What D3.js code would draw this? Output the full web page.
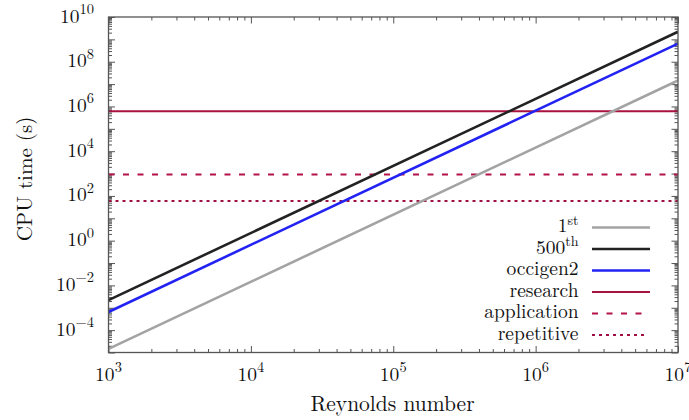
<!DOCTYPE html>
<html>
<head>
<meta charset="utf-8">
<script src="https://cdn.jsdelivr.net/npm/d3@7/dist/d3.min.js"></script>
<style>
  html, body { margin: 0; padding: 0; background: #fff; }
  svg { display: block; }
</style>
</head>
<body>
<svg id="chart" width="689" height="420"></svg>
<script>
// ---- data ----
const reynolds = [1e3, 1e7];
const cpu1st = [1.45e-5, 1.45e7];
const cpu500th = [2.2e-3, 2.2e9];
const cpuOccigen2 = [6.5e-4, 6.5e8];
const researchTime = 6.048e5;
const applicationTime = 900;
const repetitiveTime = 60;
const xTickExponents = [3, 4, 5, 6, 7];
const yTickExponents = [-4, -2, 0, 2, 4, 6, 8, 10];
const xTitle = "Reynolds number";
const yTitle = "CPU time (s)";

const series = [
  { name: "1", sup: "st", values: cpu1st, color: "#a3a3a3", width: 2.6, dash: null },
  { name: "500", sup: "th", values: cpu500th, color: "#222222", width: 2.6, dash: null },
  { name: "occigen2", sup: null, values: cpuOccigen2, color: "#2222f2", width: 2.6, dash: null }
];
const levels = [
  { name: "research", value: researchTime, color: "#a8123f", width: 2, dash: null },
  { name: "application", value: applicationTime, color: "#b3124a", width: 2, dash: "6,8.5" },
  { name: "repetitive", value: repetitiveTime, color: "#9e1045", width: 2, dash: "3,4" }
];

// ---- layout ----
const FONT = '"Latin Modern Roman", "Liberation Serif", serif';
const L = 108.5, R = 678, T = 17, B = 352.5;
const svg = d3.select("#chart");
const x = d3.scaleLog().domain([1e3, 1e7]).range([L, R]);
const y = d3.scaleLog().domain([1e-5, 1e10]).range([B, T]);

function minorTicks(lo, hi) {
  const out = [];
  for (let e = lo; e < hi; e++) for (let m = 2; m <= 9; m++) out.push(m * Math.pow(10, e));
  return out;
}
const xMajor = d3.range(3, 8).map(e => Math.pow(10, e));
const xMinor = minorTicks(3, 7);
const yMajor = d3.range(-5, 11).map(e => Math.pow(10, e));
const yMinor = minorTicks(-5, 10);

const axisColor = "#555";
function styleAxis(g) {
  g.select(".domain").remove();
  g.selectAll("line").attr("stroke", axisColor).attr("stroke-width", 1);
  g.selectAll("text").remove();
}
const major = 6.5, minor = 3.5;
svg.append("g").attr("transform", `translate(0,${B})`).call(d3.axisBottom(x).tickValues(xMajor).tickSize(-major)).call(styleAxis);
svg.append("g").attr("transform", `translate(0,${B})`).call(d3.axisBottom(x).tickValues(xMinor).tickSize(-minor)).call(styleAxis);
svg.append("g").attr("transform", `translate(0,${T})`).call(d3.axisTop(x).tickValues(xMajor).tickSize(-major)).call(styleAxis);
svg.append("g").attr("transform", `translate(0,${T})`).call(d3.axisTop(x).tickValues(xMinor).tickSize(-minor)).call(styleAxis);
svg.append("g").attr("transform", `translate(${L},0)`).call(d3.axisLeft(y).tickValues(yMajor).tickSize(-major)).call(styleAxis);
svg.append("g").attr("transform", `translate(${L},0)`).call(d3.axisLeft(y).tickValues(yMinor).tickSize(-minor)).call(styleAxis);
svg.append("g").attr("transform", `translate(${R},0)`).call(d3.axisRight(y).tickValues(yMajor).tickSize(-major)).call(styleAxis);
svg.append("g").attr("transform", `translate(${R},0)`).call(d3.axisRight(y).tickValues(yMinor).tickSize(-minor)).call(styleAxis);

svg.append("clipPath").attr("id", "clip").append("rect")
  .attr("x", L).attr("y", T).attr("width", R - L).attr("height", B - T);
const plot = svg.append("g").attr("clip-path", "url(#clip)");

levels.forEach(d => {
  plot.append("line")
    .attr("x1", L).attr("x2", R)
    .attr("y1", y(d.value)).attr("y2", y(d.value))
    .attr("stroke", d.color).attr("stroke-width", d.width)
    .attr("stroke-dasharray", d.dash);
});

const line = d3.line().x(d => x(d[0])).y(d => y(d[1]));
series.forEach(s => {
  plot.append("path")
    .datum(reynolds.map((r, i) => [r, s.values[i]]))
    .attr("d", line).attr("fill", "none")
    .attr("stroke", s.color).attr("stroke-width", s.width);
});

svg.append("rect").attr("x", L).attr("y", T).attr("width", R - L).attr("height", B - T)
  .attr("fill", "none").attr("stroke", axisColor).attr("stroke-width", 1.3);

function txt(parent, size) {
  return parent.append("text").style("font-family", FONT).style("font-size", size + "px").attr("fill", "#111");
}

const fs = 19.5, sfs = 14.5;
xTickExponents.forEach(e => {
  const t = txt(svg, fs).attr("x", x(Math.pow(10, e))).attr("y", 380.5).attr("text-anchor", "middle");
  t.append("tspan").text("10");
  t.append("tspan").attr("dy", -8.5).style("font-size", sfs + "px").text(e);
});
yTickExponents.forEach(e => {
  const t = txt(svg, fs).attr("x", 94).attr("y", y(Math.pow(10, e)) + 5.5).attr("text-anchor", "end");
  t.append("tspan").text("10");
  t.append("tspan").attr("dy", -8.5).style("font-size", sfs + "px").text(e < 0 ? "\u2212" + (-e) : e);
});

txt(svg, 21.5).attr("x", 392.5).attr("y", 411).attr("text-anchor", "middle").text(xTitle);
txt(svg, 21).attr("transform", `translate(32,179) rotate(-90)`)
  .attr("text-anchor", "middle").text(yTitle);

const legendRows = series.map(s => ({ name: s.name, sup: s.sup, color: s.color, width: s.width, dash: s.dash }))
  .concat(levels.map(l => ({ name: l.name, sup: null, color: l.color, width: l.width, dash: l.dash })));
const lgY0 = 227.5, lgDy = 21.5, lgTextX = 578.5, lgX1 = 592, lgX2 = 650;
legendRows.forEach((d, i) => {
  const yy = lgY0 + i * lgDy;
  const t = txt(svg, 19.5).attr("x", lgTextX).attr("y", yy + 4.5).attr("text-anchor", "end");
  t.append("tspan").text(d.name);
  if (d.sup) t.append("tspan").attr("dy", -7.5).style("font-size", "14px").text(d.sup);
  svg.append("line").attr("x1", lgX1).attr("x2", d.dash ? lgX2 - 4 : lgX2)
    .attr("y1", yy).attr("y2", yy)
    .attr("stroke", d.color).attr("stroke-width", d.width)
    .attr("stroke-dasharray", d.dash);
});
</script>
</body>
</html>
